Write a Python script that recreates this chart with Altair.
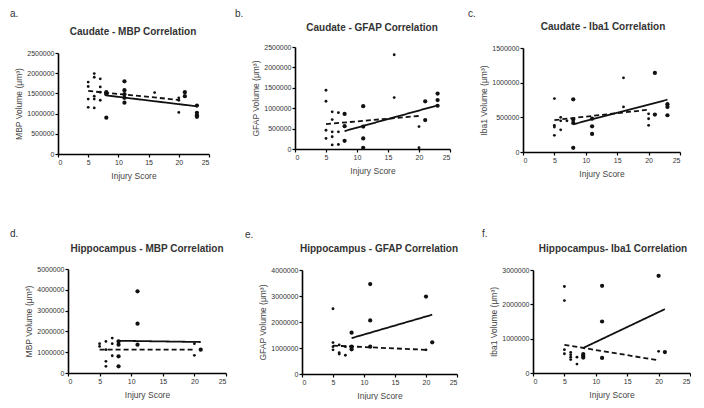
import altair as alt
import pandas as pd

FONT = "Liberation Sans"
x_ticks = [0, 5, 10, 15, 20, 25]

# ---------- a. Caudate - MBP ----------
a_x = [5, 5, 5, 5, 6, 6, 6, 6, 6, 7, 7, 7, 7, 8, 8, 8, 11, 11, 11, 11, 11, 16, 20, 20, 20, 21, 21, 23, 23, 23, 23]
a_y = [1780000, 1670000, 1360000, 1155000, 1990000, 1900000, 1430000, 1360000, 1140000,
       1860000, 1660000, 1530000, 1330000, 1530000, 1480000, 900000, 1800000, 1580000,
       1480000, 1390000, 1270000, 1520000, 1390000, 1330000, 1030000, 1530000, 1430000,
       1200000, 1020000, 960000, 920000]
a_g = list("AAAAAAAAAAAAABBBBBBBBAAAABBBBBB")
a_solid_x, a_solid_y = [8, 23], [1450000, 1180000]
a_dash_x, a_dash_y = [5, 20], [1560000, 1340000]
a_yticks = [0, 500000, 1000000, 1500000, 2000000, 2500000]

# ---------- b. Caudate - GFAP ----------
b_x = [5, 5, 5, 5, 6, 6, 6, 6, 6, 7, 7, 7, 8, 8, 8, 11, 11, 11, 11, 16, 16, 20, 20, 21, 21, 23, 23, 23]
b_y = [1440000, 1170000, 460000, 260000, 910000, 720000, 420000, 300000, 100000,
       890000, 420000, 110000, 860000, 560000, 200000, 1050000, 550000, 260000, 30000,
       2310000, 1260000, 550000, 30000, 1170000, 710000, 1360000, 1200000, 1060000]
b_g = list("AAAAAAAAAAAABBBBBBBAAAABBBBB")
b_solid_x, b_solid_y = [8, 23], [440000, 1070000]
b_dash_x, b_dash_y = [5, 20], [610000, 810000]
b_yticks = [0, 500000, 1000000, 1500000, 2000000, 2500000]

# ---------- c. Caudate - Iba1 ----------
c_x = [5, 5, 5, 5, 6, 6, 6, 7, 8, 8, 8, 8, 11, 11, 11, 16, 16, 20, 20, 20, 21, 21, 23, 23, 23]
c_y = [770000, 385000, 360000, 240000, 500000, 450000, 320000, 450000, 760000, 470000,
       420000, 60000, 480000, 370000, 260000, 1070000, 650000, 550000, 480000, 385000,
       1140000, 540000, 690000, 650000, 530000]
c_g = list("AAAAAAAABBBBBBBAAAAABBBBB")
c_solid_x, c_solid_y = [8, 23], [400000, 755000]
c_dash_x, c_dash_y = [5, 20], [460000, 610000]
c_yticks = [0, 500000, 1000000, 1500000]

# ---------- d. Hippocampus - MBP ----------
d_x = [5, 5, 6, 6, 6, 6, 7, 7, 7, 8, 8, 8, 8, 11, 11, 11, 20, 20, 21]
d_y = [1410000, 1280000, 1520000, 1120000, 560000, 320000, 1680000, 1410000, 830000,
       1520000, 1360000, 800000, 320000, 3930000, 2370000, 1360000, 1410000, 850000, 1120000]
d_g = list("AAAAAAAAABBBBBBBAAB")
d_solid_x, d_solid_y = [8, 21], [1550000, 1490000]
d_dash_x, d_dash_y = [5, 20], [1120000, 1120000]
d_yticks = [0, 1000000, 2000000, 3000000, 4000000, 5000000]

# ---------- e. Hippocampus - GFAP ----------
e_x = [5, 5, 5, 5, 6, 6, 6, 7, 7, 8, 8, 8, 11, 11, 11, 20, 20, 21]
e_y = [2510000, 1210000, 1050000, 930000, 1120000, 820000, 770000, 1050000, 720000,
       1590000, 1050000, 950000, 3460000, 2060000, 1050000, 2980000, 930000, 1220000]
e_g = list("AAAAAAAAABBBBBBBAB")
e_solid_x, e_solid_y = [8, 21], [1380000, 2280000]
e_dash_x, e_dash_y = [5, 20], [1090000, 930000]
e_yticks = [0, 1000000, 2000000, 3000000, 4000000]

# ---------- f. Hippocampus - Iba1 ----------
f_x = [5, 5, 5, 5, 6, 6, 6, 6, 7, 7, 8, 8, 8, 11, 11, 11, 20, 20, 21]
f_y = [2520000, 2110000, 680000, 560000, 600000, 530000, 460000, 390000, 460000, 260000,
       550000, 500000, 450000, 2540000, 1500000, 440000, 2830000, 630000, 610000]
f_g = list("AAAAAAAAAABBBBBBBAB")
f_solid_x, f_solid_y = [8, 21], [730000, 1860000]
f_dash_x, f_dash_y = [5, 20], [820000, 370000]
f_yticks = [0, 1000000, 2000000, 3000000]

titles = ["Caudate - MBP Correlation", "Caudate - GFAP Correlation", "Caudate - Iba1 Correlation",
          "Hippocampus - MBP Correlation", "Hippocampus - GFAP Correlation", "Hippocampus- Iba1 Correlation"]
ytitles = ["MBP Volume (\u03bcm\u00b3)", "GFAP Volume (\u03bcm\u00b3)", "Iba1 Volume (\u03bcm\u00b3)",
           "MBP Volume (\u03bcm\u00b3)", "GFAP Volume (\u03bcm\u00b3)", "Iba1 Volume (\u03bcm\u00b3)"]
letters = ["a.", "b.", "c.", "d.", "e.", "f."]

# ---------- layout: page-pixel boxes (left, top, right, bottom) of each plot area ----------
boxes = [(58, 53, 209, 154), (295, 47, 450, 149), (523, 48, 680, 152),
         (68, 269, 226, 373), (302, 270, 457, 374), (533, 270, 690, 373)]
letter_pos = [(10, 17), (235, 17), (468, 17), (10, 237), (245, 238), (482, 237)]
title_pos = [(133, 32), (372, 28), (603, 27), (147, 249), (379, 249), (613, 249)]
ORIGIN_X = 58
COL_SP = 66

# column group lefts/widths, row group tops/heights
col_l, col_w = [], []
gl = ORIGIN_X
for c in range(3):
    right = max(boxes[c][2], boxes[c + 3][2])
    col_l.append(gl)
    col_w.append(right - gl)
    gl = right + COL_SP
row_t = [min(b[1] for b in boxes[:3]), min(b[1] for b in boxes[3:])]
row_h = [max(b[3] for b in boxes[:3]) - row_t[0], max(b[3] for b in boxes[3:]) - row_t[1]]
ROW_SP = row_t[1] - (row_t[0] + row_h[0])

data = [(a_x, a_y, a_g, a_solid_x, a_solid_y, a_dash_x, a_dash_y, a_yticks),
        (b_x, b_y, b_g, b_solid_x, b_solid_y, b_dash_x, b_dash_y, b_yticks),
        (c_x, c_y, c_g, c_solid_x, c_solid_y, c_dash_x, c_dash_y, c_yticks),
        (d_x, d_y, d_g, d_solid_x, d_solid_y, d_dash_x, d_dash_y, d_yticks),
        (e_x, e_y, e_g, e_solid_x, e_solid_y, e_dash_x, e_dash_y, e_yticks),
        (f_x, f_y, f_g, f_solid_x, f_solid_y, f_dash_x, f_dash_y, f_yticks)]


def panel(k):
    xs, ys, gs, sx, sy, dx_, dy_, yticks = data[k]
    pl, pt, pr, pb = boxes[k]
    gl, W = col_l[k % 3], col_w[k % 3]
    gt, H = row_t[k // 3], row_h[k // 3]
    x0, x1 = pl - gl, pr - gl
    y0, y1 = pt - gt, pb - gt
    pts = pd.DataFrame({"x": xs, "y": ys, "g": gs})
    lines = pd.DataFrame({"x": sx + dx_, "y": sy + dy_,
                          "k": ["solid", "solid", "dashed", "dashed"]})
    X = alt.X("x:Q", scale=alt.Scale(domain=[0, 25], range=[x0, x1], nice=False, zero=False),
              axis=alt.Axis(values=x_ticks, title="Injury Score", offset=-(H - y1), titlePadding=6))
    Y = alt.Y("y:Q", scale=alt.Scale(domain=[0, yticks[-1]], range=[y1, y0], nice=False, zero=False),
              axis=alt.Axis(values=yticks, format="d", title=ytitles[k], offset=-x0, titlePadding=3))
    p = alt.Chart(pts).mark_circle(color="#111", opacity=1).encode(
        x=X, y=Y,
        size=alt.Size("g:N", scale=alt.Scale(domain=["A", "B"], range=[8, 18]), legend=None))
    ln = alt.Chart(lines).mark_line(color="#111", strokeWidth=1.8).encode(
        x=X, y=Y,
        strokeDash=alt.StrokeDash("k:N", scale=alt.Scale(domain=["solid", "dashed"], range=[[1, 0], [5, 3]]),
                                  legend=None))
    lt = alt.Chart(pd.DataFrame({"t": [letters[k]]})).mark_text(
        align="left", baseline="alphabetic", fontSize=10, color="#333", font=FONT).encode(
        x=alt.value(letter_pos[k][0] - gl), y=alt.value(letter_pos[k][1] - gt), text="t:N")
    tt = alt.Chart(pd.DataFrame({"t": [titles[k]]})).mark_text(
        align="center", baseline="middle", fontSize=10, fontWeight="bold", color="#333", font=FONT).encode(
        x=alt.value(title_pos[k][0] - gl), y=alt.value(title_pos[k][1] - gt), text="t:N")
    return alt.layer(p, ln, lt, tt).properties(width=W, height=H)


chart = alt.concat(*[panel(k) for k in range(6)], columns=3, bounds="flush",
                   spacing={"row": ROW_SP, "column": COL_SP}).properties(
    padding={"left": 2, "top": 1, "right": 0, "bottom": 0},
    background="white",
).configure_view(stroke=None).configure_axis(
    grid=False, domainColor="#000", domainWidth=1.6, tickColor="#000", tickWidth=1.2, tickSize=3,
    labelFont=FONT, labelFontSize=7, labelColor="#333", labelPadding=1,
    titleFont=FONT, titleFontSize=8.5, titleColor="#444", titleFontWeight="normal",
)

chart.save("out.html", embed_options={"renderer": "svg", "actions": False})
